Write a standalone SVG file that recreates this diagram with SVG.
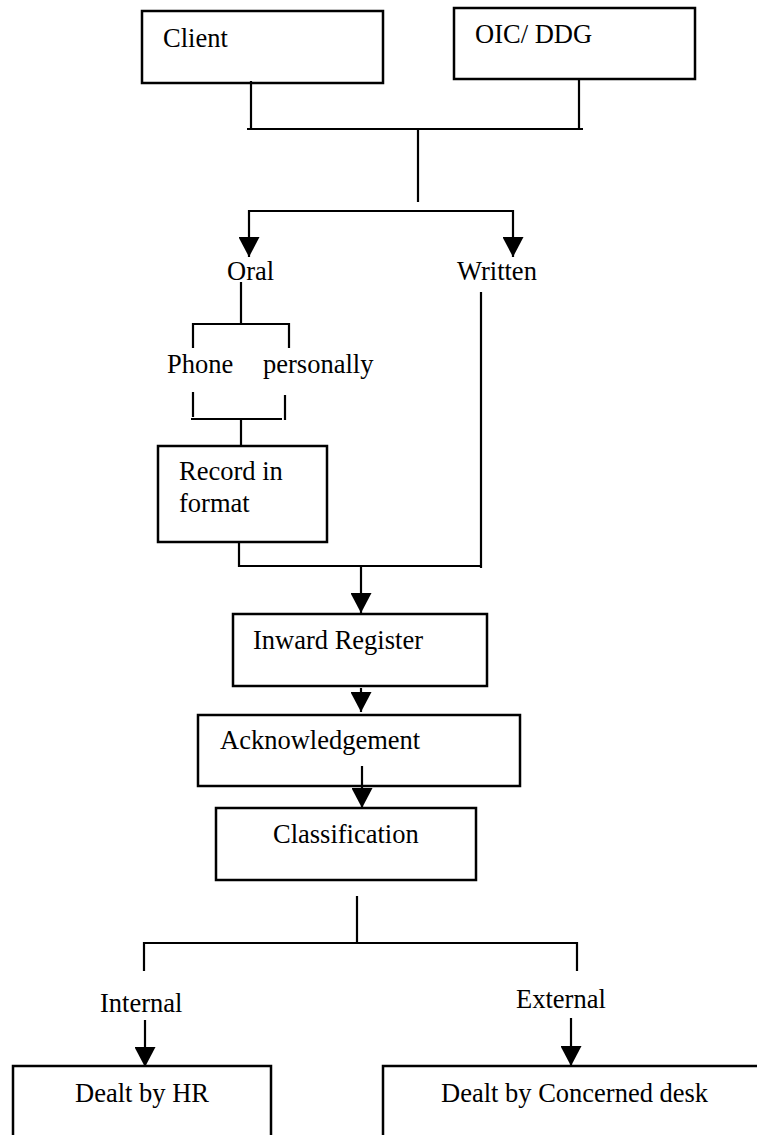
<svg xmlns="http://www.w3.org/2000/svg" width="757" height="1135" viewBox="0 0 757 1135">
<style>
.box{fill:#fff;stroke:#000;stroke-width:2.5}
.ln{fill:none;stroke:#000;stroke-width:2.2}
text{font-family:'Liberation Serif','Times New Roman','DejaVu Serif',serif;font-size:26.5px;fill:#000}
</style>
<defs>
<marker id="ah" markerUnits="userSpaceOnUse" markerWidth="20" markerHeight="21" refX="20" refY="10.5" orient="auto" viewBox="0 0 20 21">
<path d="M0,0 L20,10.5 L0,21 z" fill="#000"/>
</marker>
</defs>
<rect width="757" height="1135" fill="#fff"/>
<g id="client"><rect class="box" x="142" y="11" width="241" height="72"/><text x="163" y="47">Client</text></g>
<g id="oic"><rect class="box" x="454" y="8" width="241" height="71"/><text x="475" y="43">OIC/ DDG</text></g>
<g id="oral"><text x="227" y="280">Oral</text></g>
<g id="written"><text x="457" y="280">Written</text></g>
<g id="phone"><text x="167" y="373">Phone</text></g>
<g id="personally"><text x="263" y="373">personally</text></g>
<g id="record"><rect class="box" x="158" y="446" width="169" height="96"/><text x="179" y="480">Record in</text><text x="179" y="512">format</text></g>
<g id="inward"><rect class="box" x="233" y="614" width="254" height="72"/><text x="253" y="649">Inward Register</text></g>
<g id="ack"><rect class="box" x="198" y="715" width="322" height="71"/><text x="220" y="749">Acknowledgement</text></g>
<g id="class"><rect class="box" x="216" y="808" width="260" height="72"/><text x="273" y="843">Classification</text></g>
<g id="internal"><text x="100" y="1012">Internal</text></g>
<g id="external"><text x="516" y="1008">External</text></g>
<g id="hr"><rect class="box" x="13" y="1066" width="258" height="90"/><text x="75" y="1102">Dealt by HR</text></g>
<g id="desk"><rect class="box" x="383" y="1066" width="400" height="90"/><text x="441" y="1102">Dealt by Concerned desk</text></g>
<g id="connectors">
<path class="ln" d="M251,81 V129 M579,79 V129 M247,129 H583 M418,129 V202"/>
<path class="ln" d="M249,211 H513"/>
<path class="ln" d="M249,210 V257" marker-end="url(#ah)"/>
<path class="ln" d="M513,210 V257" marker-end="url(#ah)"/>
<path class="ln" d="M241,282 V324 M193,324 H289 M193,323 V348 M289,323 V348"/>
<path class="ln" d="M193,392 V417 M285,395 V420 M191,419 H282 M241,419 V446"/>
<path class="ln" d="M481,292 V568 M239,542 V566 H481"/>
<path class="ln" d="M361,566 V613" marker-end="url(#ah)"/>
<path class="ln" d="M361,688 V712" marker-end="url(#ah)"/>
<path class="ln" d="M362,766 V808" marker-end="url(#ah)"/>
<path class="ln" d="M357,896 V943 M144,943 H577 M144,942 V971 M577,942 V971"/>
<path class="ln" d="M145,1020 V1067" marker-end="url(#ah)"/>
<path class="ln" d="M571,1018 V1066" marker-end="url(#ah)"/>
</g>
</svg>
